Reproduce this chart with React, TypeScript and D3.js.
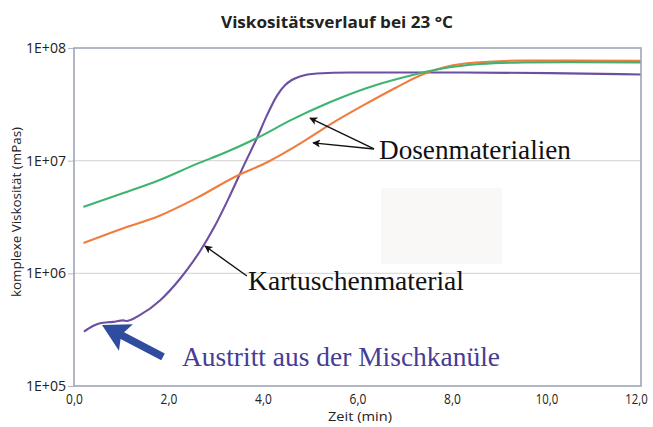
import React, { useEffect, useRef } from 'react'
import * as d3 from 'd3'

const width = 653
const height = 427

// Zeit (min) und komplexe Viskosität (mPas)
const greenTime = [0.2, 1.0, 1.8, 2.6, 3.2, 3.9, 4.6, 5.4, 6.2, 7.0, 7.8, 8.6, 9.5, 10.5, 12.0]
const greenValues = [3.88e6, 5.08e6, 6.7e6, 9.36e6, 1.18e7, 1.61e7, 2.3e7, 3.28e7, 4.42e7, 5.53e7, 6.58e7, 7.21e7, 7.45e7, 7.5e7, 7.45e7]

const orangeTime = [0.2, 1.0, 1.8, 2.6, 3.4, 4.1, 4.8, 5.4, 6.1, 6.8, 7.4, 7.9, 8.5, 9.5, 10.5, 12.0]
const orangeValues = [1.86e6, 2.48e6, 3.23e6, 4.67e6, 7.17e6, 9.73e6, 1.43e7, 2.07e7, 3.06e7, 4.42e7, 5.88e7, 6.85e7, 7.43e7, 7.74e7, 7.74e7, 7.68e7]

const purpleTime = [0.21, 0.4, 0.55, 0.83, 1.04, 1.12, 1.4, 1.82, 2.24, 2.41, 2.67, 2.98, 3.3, 3.62, 3.87, 4.08, 4.3, 4.47, 4.61, 4.78, 5.14, 5.84, 7.96, 10.07, 12.0]
const purpleValues = [3.04e5, 3.41e5, 3.61e5, 3.71e5, 3.82e5, 3.78e5, 4.28e5, 5.75e5, 8.91e5, 1.1e6, 1.58e6, 2.63e6, 4.9e6, 9.55e6, 1.58e7, 2.51e7, 3.8e7, 4.69e7, 5.2e7, 5.58e7, 5.94e7, 6.07e7, 6.07e7, 5.98e7, 5.82e7]

const xTicks = [0, 2, 4, 6, 8, 10, 12]
const xTickLabels = ['0,0', '2,0', '4,0', '6,0', '8,0', '10,0', '12,0']
const yTicks = [1e5, 1e6, 1e7, 1e8]
const yTickLabels = ['1E+05', '1E+06', '1E+07', '1E+08']

export default function App() {
  const ref = useRef<SVGSVGElement>(null)

  useEffect(() => {
    const svg = d3.select(ref.current)
    svg.selectAll('*').remove()

    const x0 = 74, x1 = 641, y0 = 48, y1 = 386
    const x = d3.scaleLinear().domain([0, 12]).range([x0, x1])
    const y = d3.scaleLog().domain([1e5, 1e8]).range([y1, y0])

    svg.append('rect').attr('width', width).attr('height', height).attr('fill', '#fff')

    // Titel
    svg.append('text')
      .attr('x', 337).attr('y', 28)
      .attr('text-anchor', 'middle')
      .attr('font-family', 'Open Sans').attr('font-weight', 'bold').attr('font-size', 16)
      .attr('textLength', 232).attr('lengthAdjust', 'spacingAndGlyphs')
      .attr('fill', '#222')
      .text('Viskositätsverlauf bei 23 °C')

    // Gitter + Ticks
    svg.selectAll('.grid').data([1e6, 1e7]).enter().append('line')
      .attr('x1', x0).attr('x2', x1)
      .attr('y1', d => y(d)).attr('y2', d => y(d))
      .attr('stroke', '#dadada').attr('stroke-width', 1.2)

    const yAxis = d3.axisLeft(y)
      .tickValues(yTicks)
      .tickFormat((d, i) => yTickLabels[i])
      .tickSize(6).tickPadding(2)
    const gy = svg.append('g').attr('transform', `translate(${x0},0)`).call(yAxis)
    gy.select('.domain').remove()
    gy.selectAll('line').attr('stroke', '#b4b8c0')
    gy.selectAll('text')
      .attr('font-family', 'Open Sans').attr('font-size', 14).attr('fill', '#222')
      .attr('textLength', 40).attr('lengthAdjust', 'spacingAndGlyphs')

    const xAxis = d3.axisBottom(x)
      .tickValues(xTicks)
      .tickFormat((d, i) => xTickLabels[i])
      .tickSize(0).tickPadding(8)
    const gx = svg.append('g').attr('transform', `translate(0,${y1})`).call(xAxis)
    gx.select('.domain').remove()
    gx.selectAll('text')
      .attr('font-family', 'Open Sans').attr('font-size', 14).attr('fill', '#222')
      .attr('textLength', (d, i) => xTickLabels[i].length * 5.6)
      .attr('lengthAdjust', 'spacingAndGlyphs')
      .attr('dx', (d, i) => (i === xTicks.length - 1 ? -5 : 0))

    svg.append('text')
      .attr('x', 360).attr('y', 421)
      .attr('text-anchor', 'middle')
      .attr('font-family', 'Open Sans').attr('font-size', 13).attr('fill', '#222')
      .attr('textLength', 64).attr('lengthAdjust', 'spacingAndGlyphs')
      .text('Zeit (min)')

    svg.append('text')
      .attr('transform', 'translate(21,212) rotate(-90)')
      .attr('text-anchor', 'middle')
      .attr('font-family', 'Open Sans').attr('font-size', 13.5).attr('fill', '#222')
      .attr('textLength', 170).attr('lengthAdjust', 'spacingAndGlyphs')
      .text('komplexe Viskosität (mPas)')

    // leeres Feld im Original
    svg.append('rect')
      .attr('x', x(6.5)).attr('y', y(5.73e6))
      .attr('width', x(9.06) - x(6.5)).attr('height', y(1.21e6) - y(5.73e6))
      .attr('fill', '#f9f8f6')

    // Kurven
    const line = (ts: number[], vs: number[]) =>
      d3.line<number>()
        .x((d, i) => x(ts[i]))
        .y(d => y(d))
        .curve(d3.curveMonotoneX)(vs)

    const series = [
      { t: purpleTime, v: purpleValues, color: '#6c4fa0' },
      { t: orangeTime, v: orangeValues, color: '#ee7d3e' },
      { t: greenTime, v: greenValues, color: '#3fb372' },
    ]
    series.forEach(s => {
      svg.append('path')
        .attr('d', line(s.t, s.v))
        .attr('fill', 'none')
        .attr('stroke', s.color)
        .attr('stroke-width', 2.1)
        .attr('stroke-linejoin', 'round')
    })

    // Rahmen
    svg.append('rect')
      .attr('x', x0).attr('y', y0).attr('width', x1 - x0).attr('height', y1 - y0)
      .attr('fill', 'none').attr('stroke', '#9ea6b6').attr('stroke-width', 1.6)

    // Pfeile
    svg.append('defs').append('marker')
      .attr('id', 'head').attr('viewBox', '0 0 10 10')
      .attr('refX', 9).attr('refY', 5)
      .attr('markerWidth', 11).attr('markerHeight', 8)
      .attr('markerUnits', 'userSpaceOnUse')
      .attr('orient', 'auto')
      .append('path').attr('d', 'M0,0L10,5L0,10L2.5,5Z').attr('fill', '#111')

    const arrows = [
      { from: [6.35, 1.27e7], to: [4.995, 2.39e7] },
      { from: [6.35, 1.27e7], to: [5.058, 1.44e7] },
      { from: [3.66, 9.48e5], to: [2.772, 1.75e6] },
    ]
    arrows.forEach(a => {
      svg.append('line')
        .attr('x1', x(a.from[0])).attr('y1', y(a.from[1]))
        .attr('x2', x(a.to[0])).attr('y2', y(a.to[1]))
        .attr('stroke', '#111').attr('stroke-width', 1.4)
        .attr('marker-end', 'url(#head)')
    })

    // dicker blauer Pfeil
    const tip = [x(0.593), y(3.48e5)]
    const tail = [x(1.884), y(1.81e5)]
    const dx = tail[0] - tip[0], dy = tail[1] - tip[1]
    const len = Math.hypot(dx, dy)
    const ux = dx / len, uy = dy / len, nx = -uy, ny = ux
    const hl = 27, hw = 15, sw = 3.8
    const pts = [
      [tip[0], tip[1]],
      [tip[0] + ux * hl + nx * hw, tip[1] + uy * hl + ny * hw],
      [tip[0] + ux * hl * 0.85 + nx * sw, tip[1] + uy * hl * 0.85 + ny * sw],
      [tail[0] + nx * sw, tail[1] + ny * sw],
      [tail[0] - nx * sw, tail[1] - ny * sw],
      [tip[0] + ux * hl * 0.85 - nx * sw, tip[1] + uy * hl * 0.85 - ny * sw],
      [tip[0] + ux * hl - nx * hw, tip[1] + uy * hl - ny * hw],
    ]
    svg.append('polygon').attr('points', pts.map(p => p.join(',')).join(' ')).attr('fill', '#2f4c9f')

    // Beschriftungen
    const labels = [
      { text: 'Dosenmaterialien', t: 6.455, v: 1.035e7, len: 192, color: '#111' },
      { text: 'Kartuschenmaterial', t: 3.683, v: 7.13e5, len: 216, color: '#111' },
      { text: 'Austritt aus der Mischkanüle', t: 2.286, v: 1.51e5, len: 318, color: '#463c96' },
    ]
    labels.forEach(l => {
      svg.append('text')
        .attr('x', x(l.t)).attr('y', y(l.v))
        .attr('font-family', 'Liberation Serif').attr('font-size', 27)
        .attr('textLength', l.len).attr('lengthAdjust', 'spacingAndGlyphs')
        .attr('fill', l.color)
        .text(l.text)
    })
  }, [])

  return (
    <svg ref={ref} width={width} height={height}
      style={{ position: 'absolute', left: 0, top: 0 }} />
  )
}
